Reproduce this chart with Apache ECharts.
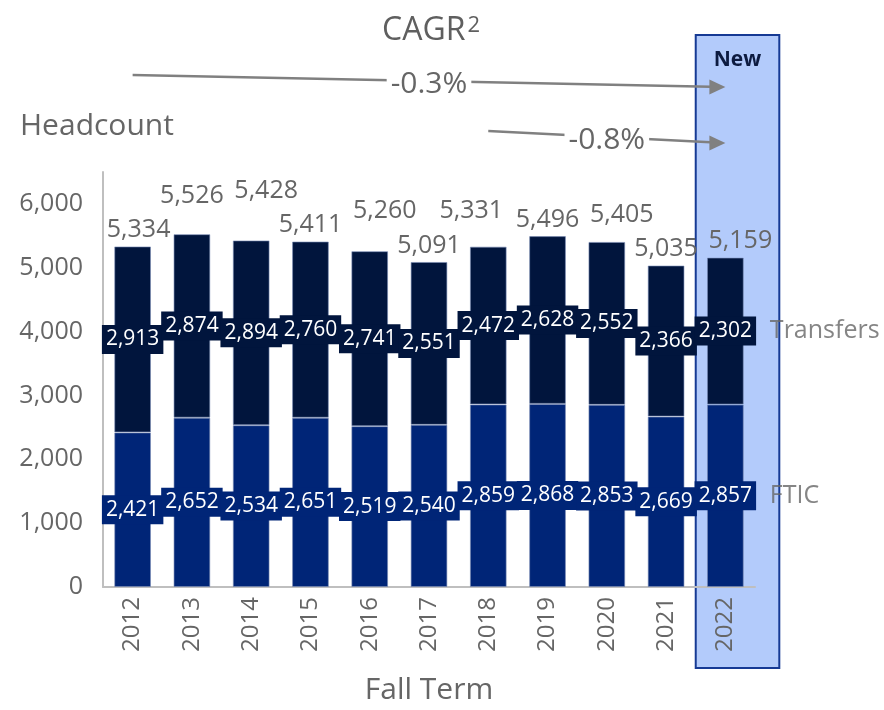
<!DOCTYPE html>
<html>
<head>
<meta charset="utf-8">
<title>Headcount by Fall Term</title>
<script src="https://cdn.jsdelivr.net/npm/echarts@6/dist/echarts.min.js"></script>
<style>
  html, body { margin: 0; padding: 0; background: #ffffff; }
  #chart { width: 884px; height: 710px; }
</style>
</head>
<body>
<div id="chart"></div>
<script>
// ---- data ----
const years = ['2012', '2013', '2014', '2015', '2016', '2017', '2018', '2019', '2020', '2021', '2022'];
const ftic = [2421, 2652, 2534, 2651, 2519, 2540, 2859, 2868, 2853, 2669, 2857];
const transfers = [2913, 2874, 2894, 2760, 2741, 2551, 2472, 2628, 2552, 2366, 2302];
const yTickValues = [0, 1000, 2000, 3000, 4000, 5000, 6000];
const cagrSpans = [['2012', '2022'], ['2018', '2022']];
const cagrLabels = ['-0.3%', '-0.8%'];

// totals shown above each stack
const totals = years.map((_, i) => ftic[i] + transfers[i]);

// ---- styling ----
const FONT = '"Open Sans", "DejaVu Sans", sans-serif';
const GREY = '#666666';
const C_FTIC = '#002577';
const C_TRANSFERS = '#01153d';
// nudges (px) for the total labels so neighbours don't collide
const totalShiftX = [6, 0, 15, 0, 15, 0, -17, 0, 15, 0, 15];
const totalLift = [0, 22, 33, 0, 24, 0, 19, 0, 11, 0, 0];
// pixel rows of the two CAGR arrows: [y at start, y at tip]
const cagrRows = [[75, 87], [131, 143]];

const fmt = n => String(n).replace(/\B(?=(\d{3})+(?!\d))/g, ',');

const chart = echarts.init(document.getElementById('chart'), null, { renderer: 'canvas' });

const innerLabel = (bg) => ({
  show: true,
  position: 'inside',
  color: '#ffffff',
  fontSize: 21,
  fontFamily: FONT,
  backgroundColor: bg,
  padding: [4, 4],
  formatter: p => fmt(p.value)
});

const barBorder = { borderColor: 'rgba(120,138,180,0.6)', borderWidth: 1 };

const last = years.length - 1;

chart.setOption({
  animation: false,
  textStyle: { fontFamily: FONT },
  grid: { left: 103, right: 129, top: 172, bottom: 122, containLabel: false },
  xAxis: {
    type: 'category',
    data: years,
    name: 'Fall Term',
    nameLocation: 'middle',
    nameGap: 88,
    nameTextStyle: { fontSize: 30, color: GREY, fontFamily: FONT },
    axisLine: { show: true, lineStyle: { color: '#bfbfbf', width: 2 } },
    axisTick: { show: false },
    axisLabel: { rotate: 90, fontSize: 24, color: GREY, margin: 10, fontFamily: FONT },
    splitLine: { show: false }
  },
  yAxis: {
    type: 'value',
    min: yTickValues[0],
    max: 6500,
    interval: 1000,
    axisLine: { show: true, lineStyle: { color: '#bfbfbf', width: 2 } },
    axisTick: { show: false },
    splitLine: { show: false },
    axisLabel: {
      fontSize: 25, color: GREY, margin: 20, fontFamily: FONT,
      showMaxLabel: false,
      formatter: v => (yTickValues.indexOf(v) >= 0 ? fmt(v) : '')
    }
  },
  series: [
    {
      name: 'FTIC',
      type: 'bar',
      stack: 'headcount',
      data: ftic,
      barCategoryGap: '38%',
      barGap: '-100%',
      itemStyle: Object.assign({ color: C_FTIC }, barBorder),
      label: innerLabel(C_FTIC),
      z: 3
    },
    {
      name: 'Transfers',
      type: 'bar',
      stack: 'headcount',
      data: transfers,
      barCategoryGap: '38%',
      barGap: '-100%',
      itemStyle: Object.assign({ color: C_TRANSFERS }, barBorder),
      label: innerLabel(C_TRANSFERS),
      z: 3
    },
    {
      name: 'Total',
      type: 'bar',
      data: totals.map((v, i) => ({
        value: v,
        label: { offset: [totalShiftX[i], -totalLift[i]] }
      })),
      barCategoryGap: '38%',
      barGap: '-100%',
      itemStyle: { color: 'rgba(0,0,0,0)', borderWidth: 0 },
      label: {
        show: true,
        position: 'top',
        distance: 4,
        color: GREY,
        fontSize: 25,
        fontFamily: FONT,
        formatter: p => fmt(p.value)
      },
      silent: true,
      z: 2
    },
    {
      name: 'Series names',
      type: 'scatter',
      symbolSize: 1,
      itemStyle: { color: 'rgba(0,0,0,0)' },
      data: [
        { name: 'Transfers', value: [years[last], ftic[last] + transfers[last] / 2] },
        { name: 'FTIC', value: [years[last], ftic[last] / 2] }
      ],
      label: {
        show: true,
        position: 'right',
        distance: 44,
        color: GREY,
        fontSize: 25,
        fontFamily: FONT,
        formatter: '{b}'
      },
      silent: true,
      z: 4
    }
  ]
});

// ---- annotations placed from the category axis ----
const px = cat => chart.convertToPixel({ xAxisIndex: 0 }, cat);
const band = px(years[1]) - px(years[0]);
const cNew = px(years[last]);
const boxLeft = cNew - band / 2;
const boxWidth = band * 1.41;

const elements = [
  {
    type: 'rect',
    z: -1,
    shape: { x: boxLeft, y: 35, width: boxWidth, height: 633 },
    style: { fill: '#b3cbfb', stroke: '#163a94', lineWidth: 2 }
  },
  {
    type: 'text',
    z: 10,
    x: boxLeft + boxWidth / 2,
    y: 60,
    style: {
      text: 'New', fill: '#0d1b40', align: 'center', verticalAlign: 'middle',
      font: 'bold 21px ' + FONT
    }
  },
  {
    type: 'text',
    z: 10,
    x: 431,
    y: 31,
    style: {
      text: 'CAGR{s|2}',
      fill: '#5f5f5f',
      align: 'center',
      verticalAlign: 'middle',
      font: '32px ' + FONT,
      rich: { s: { fontSize: 22, fontFamily: FONT, fill: '#5f5f5f', verticalAlign: 'top', padding: [0, 0, 0, 2] } }
    }
  },
  {
    type: 'text',
    z: 10,
    x: 20,
    y: 126,
    style: { text: 'Headcount', fill: GREY, align: 'left', verticalAlign: 'middle', font: '30px ' + FONT }
  }
];

cagrSpans.forEach((span, k) => {
  const xs = px(span[0]);
  const xe = px(span[1]);
  const [ys, ye] = cagrRows[k];
  const headLen = 16;
  const yAt = x => ys + (ye - ys) * (x - xs) / (xe - xs);
  elements.push({
    type: 'line',
    z: 8,
    shape: { x1: xs, y1: ys, x2: xe - headLen + 1, y2: yAt(xe - headLen + 1) },
    style: { stroke: '#808080', lineWidth: 2.5 }
  });
  elements.push({
    type: 'polygon',
    z: 8,
    shape: { points: [[xe, ye], [xe - headLen, ye - 7.5], [xe - headLen, ye + 7.5]] },
    style: { fill: '#808080' }
  });
  const xm = (xs + xe) / 2;
  elements.push({
    type: 'text',
    z: 9,
    x: xm,
    y: yAt(xm) + 3,
    style: {
      text: cagrLabels[k], fill: GREY, align: 'center', verticalAlign: 'middle',
      font: '30px ' + FONT, backgroundColor: '#ffffff', padding: [0, 4]
    }
  });
});

chart.setOption({ graphic: { elements } });
</script>
</body>
</html>
